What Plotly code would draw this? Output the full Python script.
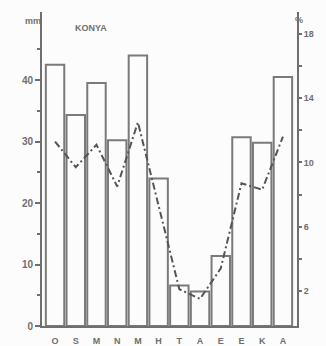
import plotly.graph_objects as go

# Monthly climate data for Konya (Turkish month initials)
months = ["O", "S", "M", "N", "M", "H", "T", "A", "E", "E", "K", "A"]
rain_mm = [42.5, 34.3, 39.5, 30.2, 44.0, 24.0, 6.6, 5.6, 11.4, 30.7, 29.8, 40.5]
share_pct = [11.3, 9.7, 11.1, 8.5, 12.5, 7.3, 2.1, 1.5, 3.4, 8.7, 8.3, 11.6]

x_idx = list(range(len(months)))

INK = "#6f6f6f"
DARK = "#555555"
FONT = "Liberation Sans"

fig = go.Figure()

fig.add_trace(go.Bar(
    x=x_idx, y=rain_mm,
    marker=dict(color="rgba(255,255,255,0)", line=dict(color="#7a7a7a", width=2)),
    yaxis="y",
    showlegend=False,
))

fig.add_trace(go.Scatter(
    x=x_idx, y=share_pct,
    mode="lines",
    line=dict(color=DARK, width=2, dash="7px,3px,2px,3px"),
    yaxis="y2",
    showlegend=False,
))

fig.update_layout(
    width=326, height=346,
    margin=dict(l=42, r=20, t=12, b=20),
    paper_bgcolor="#fcfcfc",
    plot_bgcolor="#fcfcfc",
    bargap=0.11,
    font=dict(family=FONT, color=INK, size=10),
    xaxis=dict(
        range=[-0.63, 11.68],
        tickvals=x_idx, ticktext=months,
        showline=True, linecolor=INK, linewidth=2,
        ticks="", showgrid=False, zeroline=False,
        ticklabelstandoff=5, automargin=False,
        tickfont=dict(size=9, family=FONT, color=INK, weight="bold"),
    ),
    yaxis=dict(
        range=[0, 51.06],
        tickvals=[0, 10, 20, 30, 40],
        showline=True, linecolor=INK, linewidth=2,
        ticks="outside", ticklen=5, tickwidth=1.5, tickcolor=INK,
        minor=dict(tickvals=[5, 15, 25, 35, 45], ticks="outside", ticklen=3, tickcolor=INK),
        showgrid=False, zeroline=False,
        tickfont=dict(size=10, family=FONT, color=INK, weight="bold"),
    ),
    yaxis2=dict(
        range=[-0.19, 19.37],
        overlaying="y", side="right",
        tickvals=[2, 6, 10, 14, 18],
        showline=True, linecolor=INK, linewidth=2,
        ticks="outside", ticklen=3, tickwidth=1.5, tickcolor=INK,
        minor=dict(tickvals=[4, 8, 12, 16], ticks="outside", ticklen=3, tickcolor=INK),
        showgrid=False, zeroline=False,
        tickfont=dict(size=9, family=FONT, color=INK, weight="bold"),
    ),
    annotations=[
        dict(text="<b>mm</b>", xref="paper", yref="paper", x=-0.076, y=0.994,
             showarrow=False, font=dict(size=9, family=FONT, color=INK)),
        dict(text="<b>KONYA</b>", xref="paper", yref="paper", x=0.12, y=0.971,
             showarrow=False, font=dict(size=9, family=FONT, color=INK)),
        dict(text="<b>%</b>", xref="paper", yref="paper", x=1.03, y=0.997,
             showarrow=False, font=dict(size=9, family=FONT, color=INK)),
    ],
)

fig.write_html("out.html")
